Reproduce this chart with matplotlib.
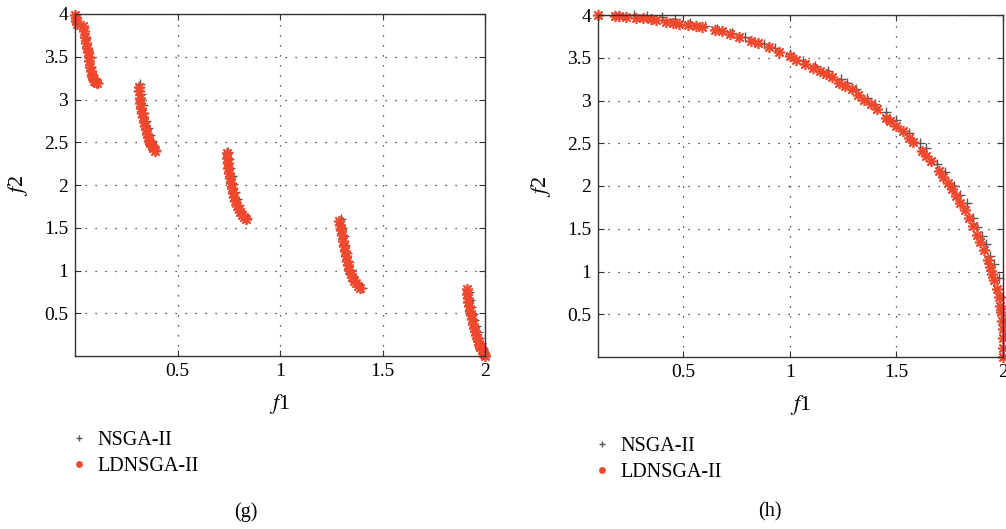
import matplotlib
matplotlib.use("Agg")
import matplotlib.pyplot as plt

plt.rcParams["font.family"] = ["Liberation Serif", "DejaVu Serif"]
plt.rcParams["mathtext.fontset"] = "stix"

# panel (g): discontinuous front
g_ld_x = [0.0, 0.003, 0.006, 0.01, 0.04, 0.045, 0.05, 0.055, 0.06, 0.063, 0.066, 0.07, 0.075,
          0.08, 0.085, 0.09, 0.095, 0.1, 0.105,
          0.31, 0.312, 0.315, 0.318, 0.322, 0.326, 0.33, 0.335, 0.34, 0.345, 0.35, 0.356,
          0.362, 0.368, 0.375, 0.382, 0.39,
          0.74, 0.742, 0.745, 0.748, 0.752, 0.756, 0.76, 0.765, 0.77, 0.776, 0.782, 0.79,
          0.798, 0.806, 0.815, 0.825, 0.835,
          1.29, 1.293, 1.297, 1.30, 1.305, 1.31, 1.315, 1.32, 1.326, 1.332, 1.338, 1.345,
          1.352, 1.36, 1.37, 1.38, 1.39,
          1.91, 1.912, 1.915, 1.918, 1.922, 1.926, 1.93, 1.935, 1.94, 1.945, 1.95, 1.955,
          1.96, 1.966, 1.972, 1.978, 1.984, 1.99, 1.995, 2.0]
g_ld_y = [3.99, 3.95, 3.92, 3.88, 3.86, 3.8, 3.73, 3.66, 3.6, 3.55, 3.5, 3.45, 3.38,
          3.33, 3.28, 3.25, 3.22, 3.2, 3.19,
          3.15, 3.1, 3.02, 2.96, 2.9, 2.84, 2.79, 2.74, 2.69, 2.65, 2.6, 2.56,
          2.52, 2.49, 2.46, 2.43, 2.4,
          2.37, 2.32, 2.26, 2.2, 2.14, 2.08, 2.02, 1.96, 1.91, 1.86, 1.81, 1.76,
          1.72, 1.68, 1.65, 1.62, 1.6,
          1.58, 1.53, 1.47, 1.41, 1.35, 1.29, 1.23, 1.17, 1.11, 1.06, 1.01, 0.96,
          0.92, 0.88, 0.85, 0.82, 0.8,
          0.78, 0.73, 0.68, 0.63, 0.58, 0.53, 0.48, 0.43, 0.38, 0.33, 0.29, 0.25,
          0.21, 0.17, 0.13, 0.1, 0.07, 0.04, 0.02, 0.0]

g_ns_x = [0.004, 0.012, 0.045, 0.055, 0.065, 0.072, 0.08, 0.09, 0.1, 0.11,
          0.318, 0.322, 0.33, 0.338, 0.346, 0.355, 0.365, 0.375, 0.386, 0.395,
          0.748, 0.752, 0.758, 0.765, 0.772, 0.78, 0.79, 0.8, 0.812, 0.825, 0.84,
          1.298, 1.303, 1.31, 1.318, 1.326, 1.335, 1.345, 1.356, 1.368, 1.382, 1.398,
          1.92, 1.925, 1.932, 1.94, 1.948, 1.956, 1.964, 1.972, 1.98, 1.988, 1.996, 2.0]
g_ns_y = [3.97, 3.9, 3.84, 3.72, 3.58, 3.48, 3.38, 3.29, 3.23, 3.19,
          3.18, 3.06, 2.94, 2.84, 2.75, 2.67, 2.59, 2.52, 2.46, 2.41,
          2.39, 2.3, 2.2, 2.1, 2.01, 1.92, 1.84, 1.77, 1.7, 1.65, 1.61,
          1.6, 1.5, 1.4, 1.3, 1.2, 1.1, 1.01, 0.93, 0.87, 0.83, 0.8,
          0.75, 0.66, 0.57, 0.49, 0.42, 0.35, 0.28, 0.21, 0.15, 0.09, 0.04, 0.01]

# panel (h): continuous concave front
h_ld_x = [0.10, 0.18, 0.20, 0.23, 0.28, 0.31, 0.35, 0.37, 0.42, 0.45, 0.48, 0.52, 0.56,
          0.59, 0.65, 0.68, 0.72, 0.76, 0.82, 0.85, 0.90, 0.95, 1.00, 1.03, 1.07, 1.11,
          1.14, 1.17, 1.20, 1.23, 1.26, 1.29, 1.32, 1.35, 1.38, 1.41, 1.45, 1.47, 1.50,
          1.53, 1.56, 1.58, 1.62, 1.64, 1.66, 1.70, 1.72, 1.74, 1.76, 1.78, 1.80, 1.82,
          1.84, 1.86, 1.88, 1.89, 1.91, 1.93, 1.94, 1.95, 1.96, 1.97, 1.98, 1.985, 1.99,
          1.995, 2.00, 2.00, 2.00, 2.00]
h_ld_y = [4.00, 3.99, 3.99, 3.98, 3.97, 3.96, 3.95, 3.94, 3.92, 3.91, 3.90, 3.88, 3.87,
          3.86, 3.83, 3.81, 3.78, 3.74, 3.70, 3.67, 3.62, 3.57, 3.52, 3.47, 3.43, 3.38,
          3.34, 3.31, 3.27, 3.21, 3.17, 3.13, 3.07, 3.01, 2.96, 2.90, 2.80, 2.76, 2.70,
          2.64, 2.56, 2.51, 2.41, 2.35, 2.29, 2.18, 2.11, 2.04, 1.97, 1.88, 1.80, 1.72,
          1.63, 1.53, 1.43, 1.35, 1.25, 1.14, 1.05, 0.97, 0.90, 0.80, 0.70, 0.60, 0.53,
          0.42, 0.33, 0.22, 0.10, 0.00]

h_ns_x = [0.27, 0.33, 0.40, 0.46, 0.53, 0.60, 0.66, 0.73, 0.79, 0.88, 0.93, 1.00, 1.06,
          1.12, 1.18, 1.24, 1.27, 1.31, 1.36, 1.40, 1.45, 1.50, 1.56, 1.61, 1.64, 1.69,
          1.73, 1.77, 1.80, 1.83, 1.86, 1.88, 1.90, 1.92, 1.94, 1.96, 1.98, 2.00, 2.01, 2.01]
h_ns_y = [4.00, 3.99, 3.98, 3.95, 3.91, 3.87, 3.84, 3.79, 3.74, 3.66, 3.61, 3.54, 3.46,
          3.40, 3.34, 3.25, 3.21, 3.14, 3.03, 2.96, 2.86, 2.77, 2.62, 2.50, 2.44, 2.26,
          2.16, 2.00, 1.90, 1.80, 1.63, 1.52, 1.42, 1.32, 1.18, 1.09, 0.92, 0.70, 0.45, 0.25]

xticks = [0.5, 1, 1.5, 2]
yticks = [0.5, 1, 1.5, 2, 2.5, 3, 3.5, 4]

red = "#f0482c"
gray = "#555555"
W, H = 1006, 529

fig = plt.figure(figsize=(10.06, 5.29), dpi=100)
ax_g = fig.add_axes([75 / W, 1 - 356 / H, 410 / W, 342 / H])
ax_h = fig.add_axes([598 / W, 1 - 357 / H, 405 / W, 342 / H])

# (axes, data..., xlim, tag, tag x px, legend anchor px)
panels = [
    (ax_g, g_ns_x, g_ns_y, g_ld_x, g_ld_y, (0, 2), "(g)", 246, (71, 431)),
    (ax_h, h_ns_x, h_ns_y, h_ld_x, h_ld_y, (0.1, 2), "(h)", 770, (594, 437)),
]

for ax, nx, ny, lx, ly, xlim, tag, tx, (lgx, lgy) in panels:
    ax.plot(nx, ny, "+", color=gray, ms=7.5, mew=1.0, ls="none", label="NSGA-II",
            clip_on=False)
    ax.plot(lx, ly, marker=(8, 2, 0), color=red, ms=8, mew=1.2, ls="none",
            label="LDNSGA-II", clip_on=False)
    ax.set_xlim(*xlim)
    ax.set_ylim(0, 4)
    ax.set_xticks(xticks)
    ax.set_xticklabels(["0.5", "1", "1.5", "2"])
    ax.set_yticks(yticks)
    ax.set_yticklabels(["0.5", "1", "1.5", "2", "2.5", "3", "3.5", "4"])
    ax.tick_params(direction="in", length=4, top=True, right=True, labelsize=14,
                   color="#333333", pad=5)
    ax.grid(True, color="#222222", linestyle=(0, (1, 7)), linewidth=0.9)
    for sp in ax.spines.values():
        sp.set_color("#333333")
        sp.set_linewidth(1.0)
    ax.set_xlabel("$f$1", fontsize=16, labelpad=9)
    ax.set_ylabel("$f$2", fontsize=16, labelpad=10)
    ax.legend(loc="upper left", bbox_to_anchor=(lgx / W, 1 - lgy / H),
              bbox_transform=fig.transFigure, frameon=False, fontsize=14.5,
              borderpad=0, borderaxespad=0, handlelength=0.8, handletextpad=0.5,
              labelspacing=0.35, markerscale=0.6)
    fig.text(tx / W, 1 - 512 / H, tag, ha="center", va="center", fontsize=14.5)

fig.savefig("out.png", dpi=100)
